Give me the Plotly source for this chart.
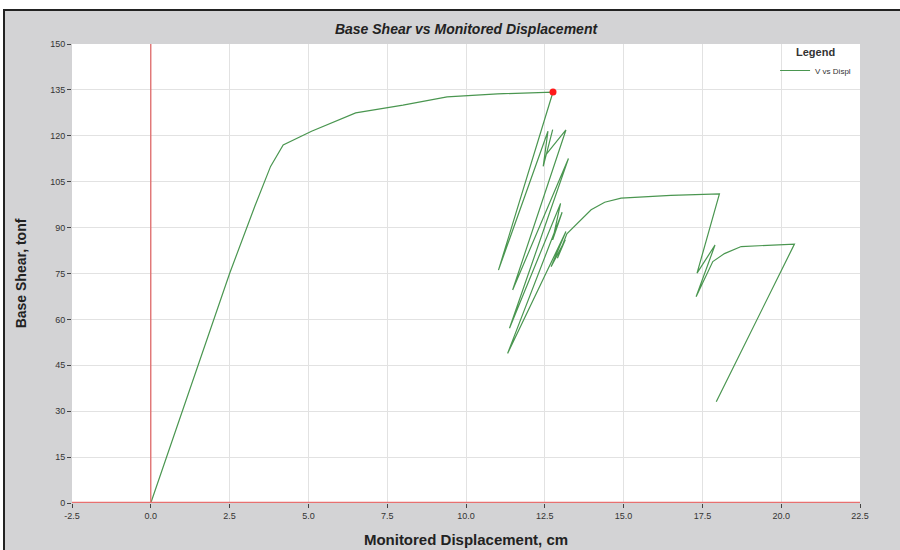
import plotly.graph_objects as go

# Data
displacement_cm = [0, 2.5, 3.3, 3.8, 4.2, 5.1, 6.5, 8.0, 9.4, 11.0, 12.76,
                   11.03, 12.6, 12.45, 12.75, 12.55, 13.17, 11.48, 13.25, 11.38,
                   13.0, 12.75, 13.05, 11.32, 13.17, 12.7, 13.15, 12.9, 13.2,
                   13.65, 13.97, 14.4, 14.92, 16.5, 18.04, 17.33, 17.9, 17.3,
                   17.83, 18.2, 18.73, 20.42, 17.94]
base_shear_tonf = [0, 75, 97, 110, 117, 121.5, 127.5, 130, 132.7, 133.7, 134.3,
                   76.1, 121.5, 110, 122, 114, 121.9, 69.6, 112.6, 57.1,
                   97.9, 86, 95, 48.9, 88.7, 77.2, 86, 80, 88,
                   92.5, 95.8, 98.3, 99.6, 100.5, 101, 75.1, 84.3, 67.4,
                   78.9, 81.5, 83.8, 84.6, 33.1]
marker_x = [12.76]
marker_y = [134.3]
x_ticks = [-2.5, 0.0, 2.5, 5.0, 7.5, 10.0, 12.5, 15.0, 17.5, 20.0, 22.5]
y_ticks = [0, 15, 30, 45, 60, 75, 90, 105, 120, 135, 150]

FONT = "Liberation Sans, Arial, sans-serif"

fig = go.Figure()
fig.add_trace(go.Scatter(
    x=displacement_cm, y=base_shear_tonf, mode="lines",
    line=dict(color="#4a9650", width=1.2), name="V vs Displ"))
fig.add_trace(go.Scatter(
    x=marker_x, y=marker_y, mode="markers",
    marker=dict(color="#ff1a1a", size=7), showlegend=False))

L, R, T, B = 72, 40, 44, 47
W, H = 900, 550
pw, ph = W - L - R, H - T - B


def px_x(p):
    return (p - L) / pw


def px_y(p):
    return (H - B - p) / ph


shapes = [
    # gray frame with dark border
    dict(type="rect", xref="paper", yref="paper",
         x0=px_x(4), x1=px_x(902), y0=px_y(552), y1=px_y(10),
         fillcolor="#d3d3d5", line=dict(color="#222222", width=2), layer="below"),
    # white plot area
    dict(type="rect", xref="paper", yref="paper",
         x0=0, x1=1, y0=0, y1=1, fillcolor="white", line=dict(width=0), layer="below"),
    # red axis lines at zero
    dict(type="line", xref="x", yref="y", x0=0, x1=0, y0=0, y1=150,
         line=dict(color="#e06060", width=1.2)),
    dict(type="line", xref="paper", yref="y", x0=0, x1=1, y0=0, y1=0,
         line=dict(color="#e87070", width=2.5)),
]

fig.update_layout(
    width=W, height=H,
    margin=dict(l=L, r=R, t=T, b=B, autoexpand=False),
    paper_bgcolor="white", plot_bgcolor="rgba(0,0,0,0)",
    shapes=shapes,
    title=dict(text="<b><i>Base Shear vs Monitored Displacement</i></b>",
               x=(L + pw / 2) / W, xanchor="center", y=1 - 29 / H, yanchor="middle",
               font=dict(family=FONT, size=14, color="#222222")),
    showlegend=True,
    legend=dict(x=0.995, xanchor="right", y=1.005, yanchor="top",
                bgcolor="rgba(255,255,255,0)",
                title=dict(text="<b>Legend</b>", side="top center",
                           font=dict(family=FONT, size=11, color="#333333")),
                font=dict(family=FONT, size=8, color="#333333"),
                itemwidth=30, tracegroupgap=0),
    xaxis=dict(range=[-2.5, 22.5], tickvals=x_ticks, automargin=False,
               ticktext=[f"{v:.1f}" for v in x_ticks],
               showgrid=True, gridcolor="#e2e2e2", gridwidth=1,
               zeroline=False, showline=False,
               ticks="outside", ticklen=4, tickcolor="#444444",
               tickfont=dict(family=FONT, size=9, color="#333333"),
               title=dict(text="<b>Monitored Displacement, cm</b>", standoff=14,
                          font=dict(family=FONT, size=15, color="#222222"))),
    yaxis=dict(range=[0, 150], tickvals=y_ticks, automargin=False,
               showgrid=True, gridcolor="#e2e2e2", gridwidth=1,
               zeroline=False, showline=False,
               ticks="outside", ticklen=4, tickcolor="#444444",
               tickfont=dict(family=FONT, size=9, color="#333333"),
               title=dict(text="<b>Base Shear, tonf</b>", standoff=20,
                          font=dict(family=FONT, size=14, color="#222222"))),
)

fig.write_html("out.html", config={"displayModeBar": False},
               post_script="document.body.style.margin='0';document.body.style.padding='0';")
